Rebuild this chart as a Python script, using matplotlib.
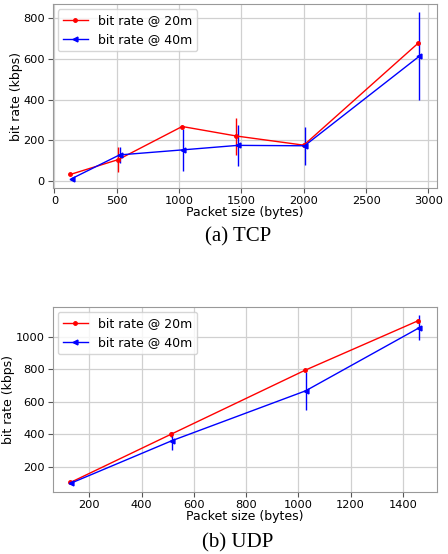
import matplotlib
matplotlib.use("Agg")
import matplotlib.pyplot as plt

# TCP measurements
tcp_size_20 = [128, 512, 1024, 1460, 2000, 2920]
tcp_rate_20 = [31, 104, 267, 220, 175, 679]
tcp_err_20 = [5, 63, 8, 91, 6, 6]
tcp_size_40 = [138, 522, 1032, 1470, 2006, 2928]
tcp_rate_40 = [10, 127, 152, 174, 172, 614]
tcp_err_40 = [5, 40, 105, 102, 94, 215]

# UDP measurements
udp_size_20 = [128, 512, 1024, 1460]
udp_rate_20 = [105, 400, 792, 1098]
udp_err_20 = [4, 14, 6, 10]
udp_size_40 = [132, 516, 1028, 1464]
udp_rate_40 = [102, 361, 667, 1055]
udp_err_40 = [4, 55, 118, 75]

labels = ["bit rate @ 20m", "bit rate @ 40m"]
captions = ["(a) TCP", "(b) UDP"]

plt.rcParams["font.family"] = "DejaVu Sans"
fig = plt.figure(figsize=(4.48, 5.54), dpi=100)

FS = 9
TICK_FS = 8.2


def draw(ax, x20, y20, e20, x40, y40, e40, xticks, ylab_x):
    ax.errorbar(x20, y20, yerr=e20, fmt="none", ecolor="red", elinewidth=1.0)
    ax.errorbar(x40, y40, yerr=e40, fmt="none", ecolor="blue", elinewidth=1.0)
    ax.plot(x20, y20, color="red", marker=".", markersize=5, lw=1.0,
            label=labels[0])
    ax.plot(x40, y40, color="blue", marker="<", markersize=3.5, lw=1.0,
            label=labels[1])
    ax.grid(True, color="#d0d0d0", lw=0.9)
    ax.set_axisbelow(True)
    for s in ax.spines.values():
        s.set_color("#999999")
    ax.tick_params(labelsize=TICK_FS, color="#555555", length=3.5, pad=2.5)
    ax.set_xticks(xticks)
    ax.set_xlabel("Packet size (bytes)", fontsize=FS, labelpad=0)
    ax.set_ylabel("bit rate (kbps)", fontsize=FS)
    ax.yaxis.set_label_coords(ylab_x, 0.5)
    leg = ax.legend(loc="upper left", fontsize=FS, handlelength=2.0,
                    borderaxespad=0.4, frameon=True)
    leg.get_frame().set_edgecolor("#cccccc")


ax1 = fig.add_axes([0.1183, 0.6606, 0.857, 0.332])
draw(ax1, tcp_size_20, tcp_rate_20, tcp_err_20,
     tcp_size_40, tcp_rate_40, tcp_err_40,
     [0, 500, 1000, 1500, 2000, 2500, 3000], -0.079)
ax1.set_yticks([0, 200, 400, 600, 800])

ax2 = fig.add_axes([0.1183, 0.1119, 0.857, 0.334])
draw(ax2, udp_size_20, udp_rate_20, udp_err_20,
     udp_size_40, udp_rate_40, udp_err_40,
     [200, 400, 600, 800, 1000, 1200, 1400], -0.099)
ax2.set_yticks([200, 400, 600, 800, 1000])

fig.text(0.531, 0.572, captions[0], ha="center", va="center",
         fontsize=15, family="Liberation Serif")
fig.text(0.531, 0.020, captions[1], ha="center", va="center",
         fontsize=15, family="Liberation Serif")

fig.savefig("out.png", dpi=100)
